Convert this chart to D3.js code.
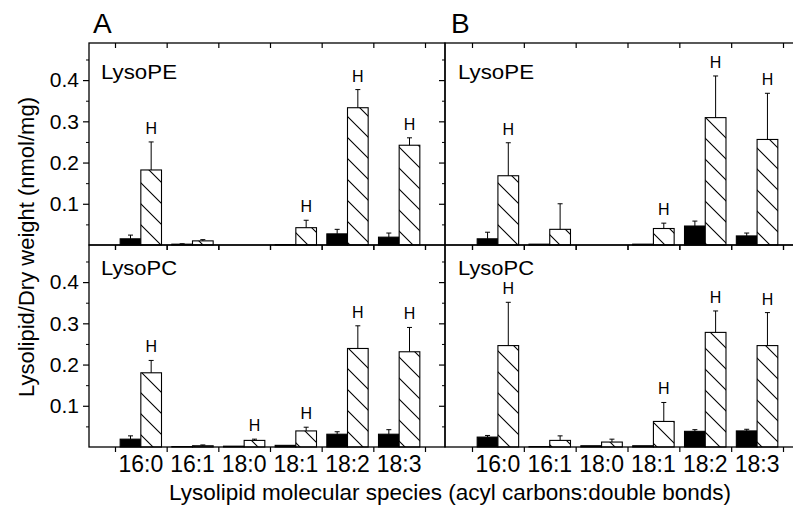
<!DOCTYPE html>
<html>
<head>
<meta charset="utf-8">
<script src="https://cdn.jsdelivr.net/npm/d3@7/dist/d3.min.js"></script>
<style>
  body { margin: 0; background: #fff; }
  svg { display: block; }
  text { font-family: "Liberation Sans", Arial, sans-serif; fill: #000; }
</style>
</head>
<body>
<svg id="chart" width="793" height="506"></svg>
<script>
// acyl species on the x axis
const species = ["16:0", "16:1", "18:0", "18:1", "18:2", "18:3"];
const yTicks = [0.1, 0.2, 0.3, 0.4];
const yMinor = [0.05, 0.15, 0.25, 0.35, 0.45];

// A, LysoPE
const peA_ctrl = [0.015, 0.002, 0, 0.001, 0.027, 0.019];
const peA_ctrlErr = [0.009, 0.001, 0, 0, 0.011, 0.010];
const peA_treat = [0.182, 0.010, 0, 0.042, 0.333, 0.242];
const peA_treatErr = [0.068, 0.003, 0, 0.018, 0.044, 0.018];
const peA_sig = [true, false, false, true, true, true];

// B, LysoPE
const peB_ctrl = [0.015, 0.002, 0, 0.002, 0.046, 0.022];
const peB_ctrlErr = [0.016, 0, 0, 0, 0.012, 0.007];
const peB_treat = [0.168, 0.038, 0, 0.040, 0.309, 0.256];
const peB_treatErr = [0.080, 0.062, 0, 0.013, 0.101, 0.112];
const peB_sig = [true, false, false, true, true, true];

// A, LysoPC
const pcA_ctrl = [0.019, 0.001, 0.002, 0.004, 0.031, 0.031];
const pcA_ctrlErr = [0.008, 0, 0, 0, 0.006, 0.011];
const pcA_treat = [0.180, 0.003, 0.016, 0.039, 0.239, 0.231];
const pcA_treatErr = [0.030, 0.002, 0.003, 0.009, 0.055, 0.059];
const pcA_sig = [true, false, true, true, true, true];

// B, LysoPC
const pcB_ctrl = [0.024, 0.001, 0.003, 0.003, 0.038, 0.039];
const pcB_ctrlErr = [0.004, 0, 0, 0, 0.004, 0.004];
const pcB_treat = [0.246, 0.016, 0.012, 0.062, 0.278, 0.246];
const pcB_treatErr = [0.105, 0.011, 0.007, 0.046, 0.052, 0.080];
const pcB_sig = [true, false, false, true, true, true];

const svg = d3.select("#chart");

// hatch for the treated bars
const defs = svg.append("defs");
const pat = defs.append("pattern")
    .attr("id", "hatch")
    .attr("patternUnits", "userSpaceOnUse")
    .attr("width", 21).attr("height", 21);
pat.append("rect").attr("width", 21).attr("height", 21).attr("fill", "#fff");
pat.append("path")
    .attr("d", "M-5,-5L26,26M-5,16L5,26M16,-5L26,5")
    .attr("stroke", "#000").attr("stroke-width", 1.1);

const cols = [
  { left: 89, right: 445, band: [115, 425], letter: "A" },
  { left: 445, right: 805, band: [472, 783], letter: "B" }
];
const rows = [
  { top: 43, bottom: 245, name: "LysoPE" },
  { top: 245, bottom: 447, name: "LysoPC" }
];

const panels = [
  { col: 0, row: 0, ctrl: peA_ctrl, ctrlErr: peA_ctrlErr, treat: peA_treat, treatErr: peA_treatErr, sig: peA_sig },
  { col: 1, row: 0, ctrl: peB_ctrl, ctrlErr: peB_ctrlErr, treat: peB_treat, treatErr: peB_treatErr, sig: peB_sig },
  { col: 0, row: 1, ctrl: pcA_ctrl, ctrlErr: pcA_ctrlErr, treat: pcA_treat, treatErr: pcA_treatErr, sig: pcA_sig },
  { col: 1, row: 1, ctrl: pcB_ctrl, ctrlErr: pcB_ctrlErr, treat: pcB_treat, treatErr: pcB_treatErr, sig: pcB_sig }
];

panels.forEach(p => {
  const c = cols[p.col], r = rows[p.row];
  const x = d3.scaleBand().domain(species).range(c.band).paddingInner(0).paddingOuter(0);
  const xb = d3.scaleLinear().domain([0, species.length]).range(c.band);
  const y = d3.scaleLinear().domain([0, 0.49]).range([r.bottom, r.top]);
  const bw = x.bandwidth() * 0.4;
  const g = svg.append("g");

  const data = species.map((s, i) => ({
    s, ctrl: p.ctrl[i], ctrlErr: p.ctrlErr[i], treat: p.treat[i], treatErr: p.treatErr[i], sig: p.sig[i]
  }));

  // bars
  data.forEach(d => {
    const cx = x(d.s) + x.bandwidth() / 2;
    [[d.ctrl, d.ctrlErr, cx - bw, "#000"], [d.treat, d.treatErr, cx, "url(#hatch)"]].forEach(([v, e, bx, fill]) => {
      if (v <= 0) return;
      g.append("rect")
          .attr("x", bx).attr("y", y(v))
          .attr("width", bw).attr("height", y(0) - y(v))
          .attr("fill", fill).attr("stroke", "#000").attr("stroke-width", 1.1);
      if (e > 0) {
        const mx = bx + bw / 2;
        g.append("line").attr("x1", mx).attr("x2", mx).attr("y1", y(v)).attr("y2", y(v + e))
            .attr("stroke", "#000").attr("stroke-width", 1);
        g.append("line").attr("x1", mx - 2.5).attr("x2", mx + 2.5).attr("y1", y(v + e)).attr("y2", y(v + e))
            .attr("stroke", "#000").attr("stroke-width", 1);
      }
    });
    if (d.sig) {
      g.append("text")
          .attr("x", cx + bw / 2).attr("y", y(d.treat + d.treatErr) - 8)
          .attr("text-anchor", "middle").attr("font-size", 16)
          .text("H");
    }
  });

  // frame
  g.append("rect")
      .attr("x", c.left).attr("y", r.top)
      .attr("width", c.right - c.left).attr("height", r.bottom - r.top)
      .attr("fill", "none").attr("stroke", "#000").attr("stroke-width", 1.3);

  // x ticks at band edges, bottom and top (both pointing down)
  [r.bottom, r.top].forEach(ty => {
    const ax = g.append("g").attr("transform", `translate(0,${ty})`)
        .call(d3.axisBottom(xb).tickValues(d3.range(species.length + 1)).tickSize(5).tickFormat(""));
    ax.select(".domain").remove();
    ax.selectAll("line").attr("stroke-width", 1.2);
  });

  // y ticks on the left side of the panel
  const ay = g.append("g").attr("transform", `translate(${c.left},0)`)
      .call(d3.axisLeft(y).tickValues(yTicks).tickSize(6).tickPadding(4)
        .tickFormat(p.col === 0 ? d3.format(".1f") : ""));
  ay.select(".domain").remove();
  ay.selectAll("line").attr("stroke-width", 1.2);
  ay.selectAll("text").attr("font-size", 21).attr("font-family", null);
  const am = g.append("g").attr("transform", `translate(${c.left},0)`)
      .call(d3.axisLeft(y).tickValues(yMinor).tickSize(3).tickFormat(""));
  am.select(".domain").remove();

  // panel name
  g.append("text")
      .attr("x", c.left + (p.col === 0 ? 12 : 13)).attr("y", r.top + (p.row === 0 ? 36 : 30))
      .attr("font-size", 20).attr("textLength", 76).attr("lengthAdjust", "spacingAndGlyphs")
      .text(r.name);

  // category labels under the bottom row
  if (p.row === 1) {
    const al = g.append("g").attr("transform", `translate(0,${r.bottom})`)
        .call(d3.axisBottom(x).tickSize(0).tickPadding(9));
    al.select(".domain").remove();
    al.selectAll("text").attr("font-size", 23).attr("font-family", null).attr("dy", "0.71em");
  }
});

// panel letters
cols.forEach(c => {
  svg.append("text").attr("x", c.left + (c.letter === "A" ? 4 : 6)).attr("y", 33)
      .attr("font-size", 28).text(c.letter);
});

// axis titles
svg.append("text")
    .attr("transform", "translate(26,247) rotate(-90)")
    .attr("text-anchor", "middle").attr("dy", "0.35em")
    .attr("font-size", 22)
    .text("Lysolipid/Dry weight (nmol/mg)");

svg.append("text")
    .attr("x", 450).attr("y", 500)
    .attr("text-anchor", "middle")
    .attr("font-size", 22.5)
    .text("Lysolipid molecular species (acyl carbons:double bonds)");
</script>
</body>
</html>
